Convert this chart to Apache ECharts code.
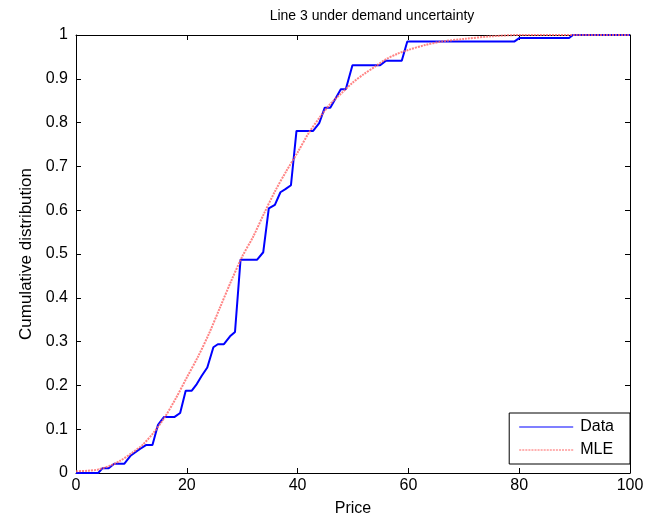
<!DOCTYPE html>
<html>
<head>
<meta charset="utf-8">
<script src="https://cdn.jsdelivr.net/npm/echarts@6/dist/echarts.min.js"></script>
<style>html,body{margin:0;padding:0;background:#fff}#c{width:650px;height:523px}</style>
</head>
<body>
<div id="c"></div>
<script>
var dataX = [0, 4.0, 4.8, 5.9, 6.9, 8.7, 9.9, 11.55, 12.7, 13.8, 14.8, 15.9, 17.8, 18.8, 19.8, 20.9, 21.8, 22.7, 23.7, 24.8, 25.6, 26.7, 27.8, 28.7, 29.7, 32.7, 33.8, 34.8, 35.9, 36.9, 37.8, 38.8, 39.8, 42.8, 43.9, 44.9, 45.9, 47.8, 48.7, 49.9, 54.9, 55.9, 58.8, 59.8, 79.1, 80.0, 89.0, 89.7, 100];
var dataY = [0, 0, 0.011, 0.011, 0.021, 0.021, 0.04, 0.055, 0.064, 0.064, 0.11, 0.128, 0.128, 0.137, 0.188, 0.188, 0.203, 0.222, 0.241, 0.287, 0.294, 0.294, 0.312, 0.322, 0.487, 0.487, 0.504, 0.604, 0.612, 0.641, 0.648, 0.657, 0.781, 0.781, 0.799, 0.834, 0.834, 0.876, 0.876, 0.931, 0.931, 0.941, 0.941, 0.985, 0.985, 0.993, 0.993, 1, 1];
var mleX = [0, 2, 4, 6, 8, 10, 12, 14, 16, 18, 20, 22, 24, 26, 28, 30, 32, 34, 36, 38, 40, 42, 44, 46, 48, 50, 52, 54, 56, 58, 60, 63, 66, 70, 75, 80, 90, 100];
var mleY = [0.004, 0.005, 0.008, 0.016, 0.028, 0.045, 0.064, 0.092, 0.127, 0.17, 0.218, 0.265, 0.318, 0.378, 0.438, 0.494, 0.54, 0.594, 0.645, 0.69, 0.732, 0.776, 0.812, 0.844, 0.868, 0.892, 0.911, 0.928, 0.945, 0.957, 0.966, 0.977, 0.985, 0.991, 0.997, 1, 1, 1];
var xTicks = [0, 20, 40, 60, 80, 100];

var FONT = "'Liberation Sans', Arial, sans-serif";
var FS = 16;
var dashPath = 'path://';
for (var i = 0; i < 18; i++) { dashPath += 'M' + (i * 3) + ',0h2v1h-2z'; }
var chart = echarts.init(document.getElementById('c'));
function tick() { return {show: true, inside: true, length: 5, lineStyle: {color: '#000', width: 1}}; }
function aline() { return {show: true, onZero: false, lineStyle: {color: '#000', width: 1}}; }
chart.setOption({
  animation: false,
  backgroundColor: '#fff',
  title: {text: 'Line 3 under demand uncertainty', left: 367, top: 4, textAlign: 'center',
    textStyle: {fontFamily: FONT, fontSize: 14, fontWeight: 'normal', color: '#000'}},
  grid: {left: 76, right: 20, top: 35, bottom: 50},
  legend: {
    orient: 'vertical', right: 20, bottom: 59,
    backgroundColor: '#fff', borderColor: '#000', borderWidth: 1, borderRadius: 0,
    padding: [6, 16, 6, 10], itemWidth: 54, itemHeight: 2, itemGap: 7,
    textStyle: {fontFamily: FONT, fontSize: FS, color: '#000', padding: [0, 0, 0, 2]},
    data: [{name: 'Data', icon: 'path://M0,0h54v1h-54z'}, {name: 'MLE', icon: dashPath}]
  },
  xAxis: [{
    type: 'value', min: 0, max: 100, interval: 20, position: 'bottom',
    name: 'Price', nameLocation: 'middle', nameGap: 28,
    nameTextStyle: {fontFamily: FONT, fontSize: FS, color: '#000'},
    axisLine: aline(), axisTick: tick(), splitLine: {show: false},
    axisLabel: {fontFamily: FONT, fontSize: FS, color: '#000', margin: 5,
      formatter: function (v) { return xTicks.indexOf(v) >= 0 ? String(v) : ''; }}
  }, {
    type: 'value', min: 0, max: 100, interval: 20, position: 'top',
    axisLine: aline(), axisTick: tick(), splitLine: {show: false}, axisLabel: {show: false}
  }],
  yAxis: [{
    type: 'value', min: 0, max: 1, interval: 0.1, position: 'left',
    name: 'Cumulative distribution', nameLocation: 'middle', nameGap: 40,
    nameTextStyle: {fontFamily: FONT, fontSize: 17, color: '#000'},
    axisLine: aline(), axisTick: tick(), splitLine: {show: false},
    axisLabel: {fontFamily: FONT, fontSize: FS, color: '#000', margin: 8,
      formatter: function (v) { return String(Math.round(v * 10) / 10); }}
  }, {
    type: 'value', min: 0, max: 1, interval: 0.1, position: 'right',
    axisLine: aline(), axisTick: tick(), splitLine: {show: false}, axisLabel: {show: false}
  }],
  series: [{
    name: 'Data', type: 'line', symbol: 'none', z: 3,
    data: dataX.map(function (x, i) { return [x, dataY[i]]; }),
    lineStyle: {color: '#0000ff', width: 2}, itemStyle: {color: '#0000ff'}
  }, {
    name: 'MLE', type: 'line', symbol: 'none', smooth: 0.3, z: 4,
    data: mleX.map(function (x, i) { return [x, mleY[i]]; }),
    lineStyle: {color: '#ff6464', width: 2, type: [2, 1], opacity: 0.8}, itemStyle: {color: '#ff6464'}
  }]
});
</script>
</body>
</html>
